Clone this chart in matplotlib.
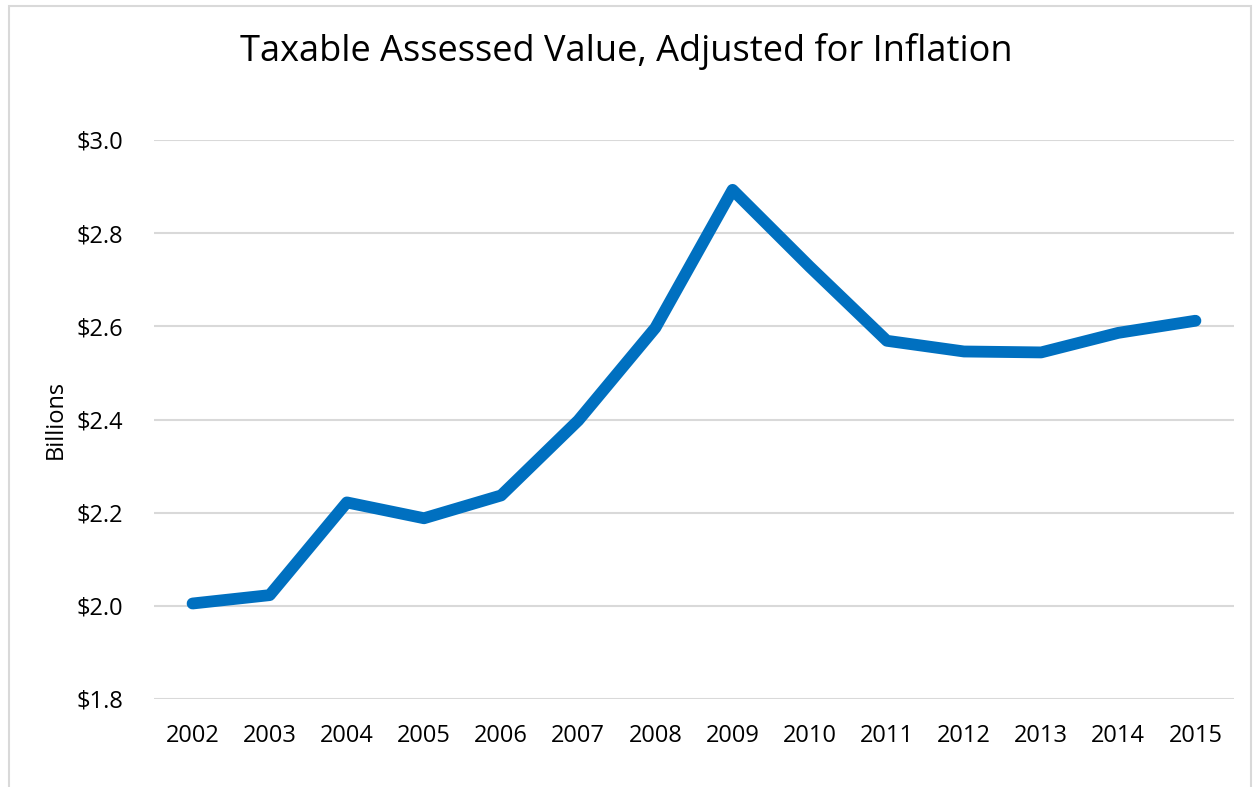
import matplotlib.pyplot as plt
from matplotlib.patches import Rectangle
from matplotlib.ticker import FuncFormatter

years = ["2002", "2003", "2004", "2005", "2006", "2007", "2008",
         "2009", "2010", "2011", "2012", "2013", "2014", "2015"]
values = [2.005, 2.023, 2.222, 2.188, 2.237, 2.398, 2.597,
          2.893, 2.728, 2.569, 2.546, 2.544, 2.586, 2.612]
yticks = [1.8, 2.0, 2.2, 2.4, 2.6, 2.8, 3.0]

plt.rcParams["font.family"] = ["Open Sans", "DejaVu Sans"]

fig = plt.figure(figsize=(12.53, 7.87), dpi=100)
ax = fig.add_axes([154 / 1253, 1 - 699 / 787, (1234 - 154) / 1253, (699 - 140) / 787])

x = range(len(years))
ax.plot(x, values, color="#0070C0", linewidth=8.5, solid_capstyle="round",
        solid_joinstyle="round")

ax.set_xlim(-0.5, len(years) - 0.5)
ax.set_ylim(1.8, 3.0)
ax.set_yticks(yticks)
ax.yaxis.set_major_formatter(FuncFormatter(lambda v, p: f"${v:.1f}"))
ax.set_xticks(list(x))
ax.set_xticklabels(years)
ax.tick_params(length=0, labelsize=17, colors="black", pad=18)
ax.tick_params(axis="y", pad=22)
ax.grid(axis="y", color="#D9D9D9", linewidth=1.5)
ax.set_axisbelow(True)
for s in ax.spines.values():
    s.set_visible(False)

ax.set_ylabel("Billions", fontsize=17, labelpad=6)
fig.text(0.5, 1 - 52 / 787, "Taxable Assessed Value, Adjusted for Inflation",
         ha="center", va="center", fontsize=26)

# chart border
fig.patches.append(Rectangle((9 / 1253, -0.05), (1251 - 9) / 1253, 1.05 - 6 / 787,
                             transform=fig.transFigure, fill=False,
                             edgecolor="#D9D9D9", linewidth=1.5))

fig.savefig("out.png", dpi=100)
